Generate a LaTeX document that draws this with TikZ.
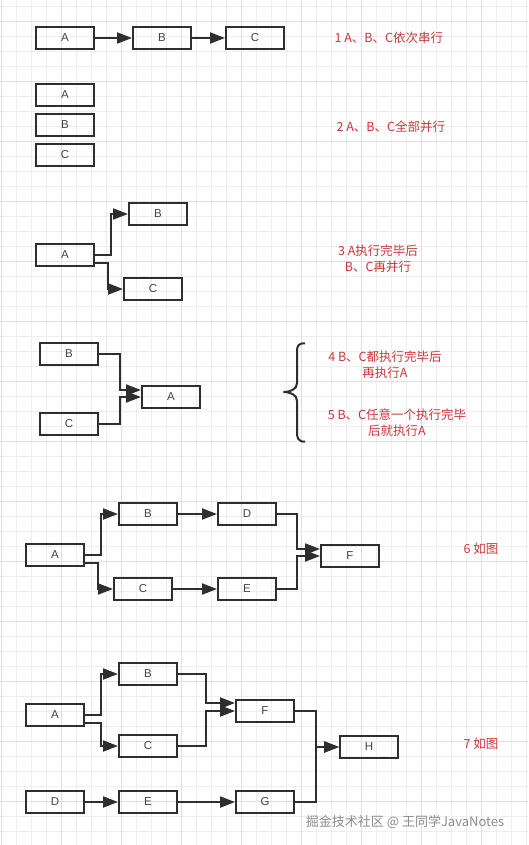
\documentclass[tikz,border=0pt]{standalone}
\usepackage{fontspec}
\setmainfont{Liberation Sans}
\newfontfamily\cjk{Noto Sans CJK SC}
\usetikzlibrary{positioning, arrows.meta}
\definecolor{BoxLine}{HTML}{2E2E2E}
\definecolor{BoxText}{HTML}{444444}
\definecolor{NoteRed}{HTML}{C9383C}
\definecolor{GridMinor}{HTML}{EEEEEE}
\definecolor{GridMajor}{HTML}{E0E0E0}
\definecolor{MarkGray}{HTML}{8C8C8C}

\begin{document}
\begin{tikzpicture}[x=1pt, y=-1pt,
    block/.style={draw=BoxLine, line width=2pt, minimum width=58pt, minimum height=22pt, inner sep=0pt, text=BoxText, font=\fontsize{11.5}{13}\selectfont},
    arr/.style={-{Triangle[length=15pt, width=11pt]}, line width=2pt, color=BoxLine},
    note/.style={text=NoteRed, align=center, font=\cjk\fontsize{12.5}{16}\selectfont},
    gridline/.style={line width=0.8pt}
]
\useasboundingbox (0,0) rectangle (528,845);
\fill[white] (0,0) rectangle (528,845);

% background grid
\foreach \gx in {1,16,...,526} \draw[gridline, GridMinor] (\gx,0) -- (\gx,845);
\foreach \gy in {6,21,...,845} \draw[gridline, GridMinor] (0,\gy) -- (528,\gy);
\foreach \gx in {1,61,...,526} \draw[gridline, GridMajor] (\gx,0) -- (\gx,845);
\foreach \gy in {21,81,...,845} \draw[gridline, GridMajor] (0,\gy) -- (528,\gy);

% 1 serial
\node[block] (a1) at (65,38) {A};
\node[block, right=37pt of a1] (b1) {B};
\node[block, right=33pt of b1] (c1) {C};
\node[note, anchor=west] (n1) at (331,38) {1 A、B、C依次串行};
\draw[arr] (a1) -- (b1);
\draw[arr] (b1) -- (c1);

% 2 parallel
\node[block] (a2) at (65,95) {A};
\node[block, below=6pt of a2] (b2) {B};
\node[block, below=6pt of b2] (c2) {C};
\node[note, anchor=west] (n2) at (333,127) {2 A、B、C全部并行};

% 3 fork
\node[block] (a3) at (65,255) {A};
\node[block] (b3) at (158,214) {B};
\node[block] (c3) at (153,289) {C};
\node[note] (n3) at (378,258.7) {3 A执行完毕后\\B、C再并行};
\draw[arr] (a3.east) -- ++(16,0) |- (b3);
\draw[arr] ([yshift=-8pt]a3.east) -- ++(13,0) |- (c3);

% 4/5 join
\node[block] (b4) at (69,354) {B};
\node[block] (c4) at (69,424) {C};
\node[block] (a4) at (171,397) {A};
\draw[arr] (b4.east) -- ++(21,0) |- ([yshift=7pt]a4.west);
\draw[arr] (c4.east) -- ++(21,0) |- (a4);
\draw[line width=2pt, BoxLine] (305,343.3) .. controls (298,343.3) and (297,346) .. (297,352)
    -- (297,383) .. controls (297,389) and (291,392) .. (283.3,392)
    .. controls (291,392) and (297,395) .. (297,401)
    -- (297,432) .. controls (297,438) and (298,441.7) .. (305,441.7);
\node[note] (n4) at (385,365) {4 B、C都执行完毕后\\再执行A};
\node[note] (n5) at (397,422.5) {5 B、C任意一个执行完毕\\后就执行A};

% 6
\node[block] (a6) at (55,555) {A};
\node[block] (b6) at (148,514) {B};
\node[block, right=39pt of b6] (d6) {D};
\node[block] (c6) at (143,589) {C};
\node[block] (e6) at (247,589) {E};
\node[block] (f6) at (350,556) {F};
\node[note, anchor=west] (n6) at (460,548.3) {6 如图};
\draw[arr] (a6.east) -- ++(16,0) |- (b6);
\draw[arr] ([yshift=-8pt]a6.east) -- ++(13,0) |- (c6);
\draw[arr] (b6) -- (d6);
\draw[arr] (c6) -- (e6);
\draw[arr] (d6.east) -- ++(20,0) |- ([yshift=7pt]f6.west);
\draw[arr] (e6.east) -- ++(20,0) |- (f6);

% 7
\node[block] (a7) at (55,715) {A};
\node[block] (b7) at (148,674) {B};
\node[block] (c7) at (148,746) {C};
\node[block] (f7) at (265,711) {F};
\node[block] (h7) at (369,747) {H};
\node[block] (d7) at (55,802) {D};
\node[block, right=33pt of d7] (e7) {E};
\node[block, right=57pt of e7] (g7) {G};
\node[note, anchor=west] (n7) at (460,743.3) {7 如图};
\draw[arr] (a7.east) -- ++(16,0) |- (b7);
\draw[arr] ([yshift=-8pt]a7.east) -- ++(16,0) |- (c7);
\draw[arr] (b7.east) -- ++(28,0) |- ([yshift=8pt]f7.west);
\draw[arr] (c7.east) -- ++(28,0) |- (f7);
\draw[arr] (f7.east) -- ++(21,0) |- (h7);
\draw[arr] (g7.east) -- ++(21,0) |- (h7);
\draw[arr] (d7) -- (e7);
\draw[arr] (e7) -- (g7);

\node[text=MarkGray, font=\cjk\fontsize{13}{15}\selectfont] (mark) at (405,821.7) {掘金技术社区 @ 王同学JavaNotes};
\end{tikzpicture}
\end{document}
